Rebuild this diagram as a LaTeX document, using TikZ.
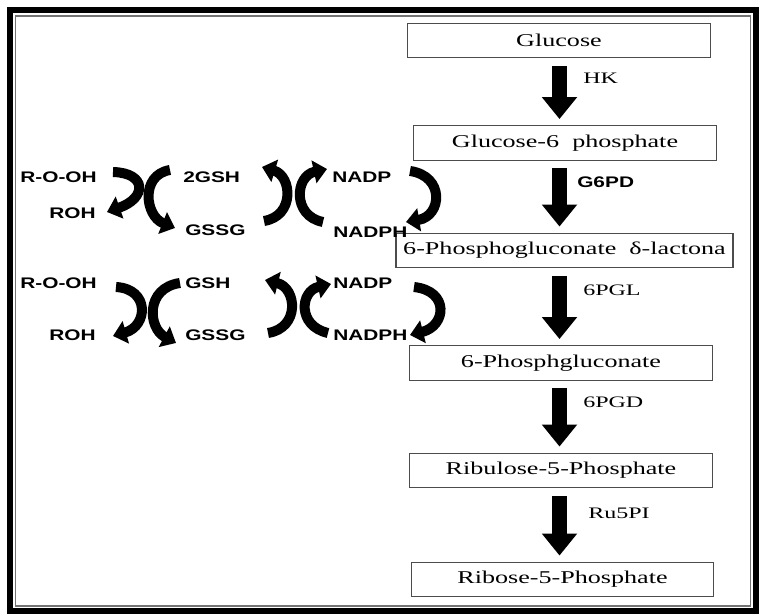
\documentclass[tikz,border=0pt]{standalone}
\usepackage{fontspec}
\usepackage{tikz}
\usetikzlibrary{arrows.meta}
\newfontfamily\boxfont[FakeStretch=1.45]{Liberation Serif}
\newfontfamily\enzfont[FakeStretch=1.5]{Liberation Serif}
\newfontfamily\molfont[FakeStretch=1.36]{Liberation Sans}

\begin{document}
\begin{tikzpicture}[x=0.75pt,y=0.75pt,
    metab/.style={draw=black!70,line width=0.9pt,minimum width=227pt,minimum height=26pt,
      inner sep=0pt,font=\boxfont\fontsize{13.5}{16}\selectfont},
    enz/.style={anchor=west,inner sep=0pt,font=\enzfont\fontsize{12}{14}\selectfont},
    mol/.style={inner sep=0pt,font=\molfont\bfseries\fontsize{11.5}{13}\selectfont},
    flow/.style={line width=11.25pt,-{Triangle[width=25.5pt,length=16.5pt]},
      shorten <=5.5pt,shorten >=4.5pt},
    cyc/.style={line width=7.5pt,-{Triangle[width=17pt,length=10pt]}}]
    \useasboundingbox[fill=white] (0,0) rectangle (760,616);
    \draw[line width=4.5pt] (10,5) rectangle (756,605.5);
    \draw[black!55,line width=0.8pt] (15.5,10) rectangle (750.5,600);

    \node[metab] (glc) at (559,575.5) {Glucose};
    \node[metab] (g6p) at (565,473) {Glucose-6\ \ phosphate};
    \node[metab,minimum width=252.75pt] (lac) at (564.5,365.5) {6-Phosphogluconate\ \ δ-lactona};
    \node[metab] (pg) at (561,253) {6-Phosphgluconate};
    \node[metab] (ru5p) at (561,145.5) {Ribulose-5-Phosphate};
    \node[metab] (r5p) at (562.5,36.5) {Ribose-5-Phosphate};

    \node[enz] (hk) at (583,537.5) {HK};
    \node[mol,anchor=west] (g6pd) at (577,434) {G6PD};
    \node[enz] (pgl) at (583,326) {6PGL};
    \node[enz] (pgd) at (583,214) {6PGD};
    \node[enz] (rpi) at (588,103) {Ru5PI};

    \coordinate (spine) at (559.5,0);
    \draw[flow] (spine |- glc.south) -- (spine |- g6p.north);
    \draw[flow] (spine |- g6p.south) -- (spine |- lac.north);
    \draw[flow] (spine |- lac.south) -- (spine |- pg.north);
    \draw[flow] (spine |- pg.south) -- (spine |- ru5p.north);
    \draw[flow] (spine |- ru5p.south) -- (spine |- r5p.north);

    \node[mol,anchor=east] (rooh1) at (97,439) {R-O-OH};
    \node[mol,anchor=east] (roh1) at (96,403) {ROH};
    \node[mol,anchor=west] (gsh1) at (183,439) {2GSH};
    \node[mol,anchor=west] (gssg1) at (185,386) {GSSG};
    \node[mol,anchor=west] (nadp1) at (332,439) {NADP};
    \node[mol,anchor=west] (nadph1) at (333,384) {NADPH};

    \node[mol,anchor=east] (rooh2) at (97,333) {R-O-OH};
    \node[mol,anchor=east] (roh2) at (96,281) {ROH};
    \node[mol,anchor=west] (gsh2) at (185,333) {GSH};
    \node[mol,anchor=west] (gssg2) at (185,281) {GSSG};
    \node[mol,anchor=west] (nadp2) at (333,333) {NADP};
    \node[mol,anchor=west] (nadph2) at (333,281) {NADPH};

    \draw[cyc] ([shift={(16,5)}]rooh1.east) .. controls +(34,-1) and +(40,14) .. ([shift={(11,1)}]roh1.east);
    \draw[cyc] ([shift={(-13,7)}]gsh1.west) .. controls +(-30,-5) and +(-30,12) .. ([shift={(-10,2)}]gssg1.west);
    \draw[cyc] ([shift={(79,9)}]gssg1.west) .. controls +(31,5) and +(30,-9) .. ([shift={(79,10)}]gsh1.west);
    \draw[cyc] ([shift={(-10,10)}]nadph1.west) .. controls +(-31,6) and +(-32,-7) .. ([shift={(-5,8)}]nadp1.west);
    \draw[cyc] ([shift={(78,6)}]nadp1.west) .. controls +(35,-5) and +(36,6) .. ([shift={(73,10)}]nadph1.west);

    \draw[cyc] ([shift={(19,-4)}]rooh2.east) .. controls +(34,-2) and +(35,10) .. ([shift={(17,-1)}]roh2.east);
    \draw[cyc] ([shift={(-5,0)}]gsh2.west) .. controls +(-35,-5) and +(-28,15) .. ([shift={(-9,-8)}]gssg2.west);
    \draw[cyc] ([shift={(83,2)}]gssg2.west) .. controls +(32,5) and +(32,-8) .. ([shift={(80,3)}]gsh2.west);
    \draw[cyc] ([shift={(-5,2)}]nadph2.west) .. controls +(-31,7) and +(-31,-7) .. ([shift={(-2,-1)}]nadp2.west);
    \draw[cyc] ([shift={(81,-4)}]nadp2.west) .. controls +(36,-4) and +(36,9) .. ([shift={(77,0)}]nadph2.west);
\end{tikzpicture}
\end{document}
